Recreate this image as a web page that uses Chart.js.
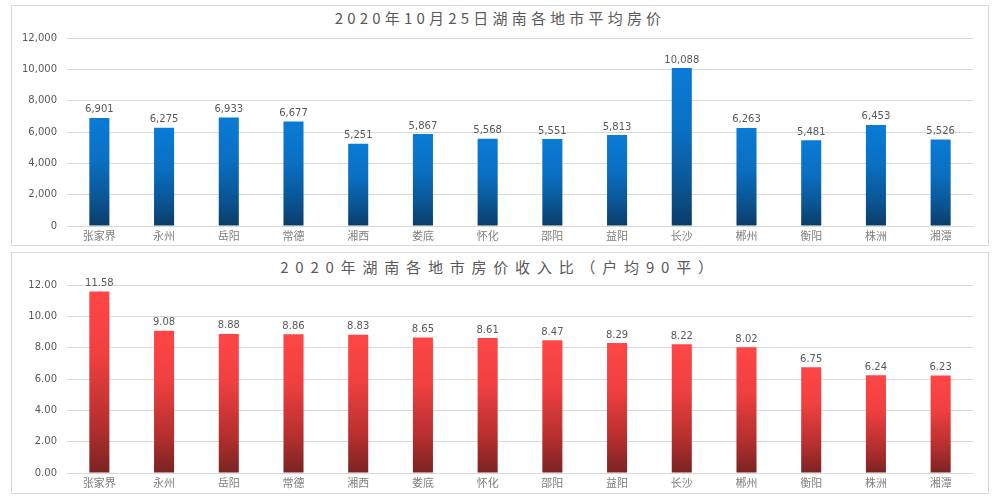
<!DOCTYPE html>
<html>
<head>
<meta charset="utf-8">
<script src="https://cdn.jsdelivr.net/npm/chart.js@4/dist/chart.umd.min.js"></script>
<style>
  html, body { margin: 0; padding: 0; background: #ffffff; width: 1000px; height: 500px; overflow: hidden; }
  .box { position: absolute; left: 11px; width: 976px; border: 1px solid #d9d9d9; background: #fff; }
  #box1 { top: 5px; height: 239px; }
  #box2 { top: 252px; height: 240px; }
  .title { position: absolute; left: 0; right: 0; text-align: center; font-family: "Noto Sans CJK SC", "Noto Sans", sans-serif; font-size: 15px; color: #595959; white-space: nowrap; line-height: 18px; }
  #t1 { top: 3px; letter-spacing: 4.2px; }
  #t2 { top: 5px; letter-spacing: 6.8px; }
  canvas { position: absolute; left: 0; top: 0; }
</style>
</head>
<body>
<div class="box" id="box1">
  <div class="title" id="t1">2020年10月25日湖南各地市平均房价</div>
  <div style="position:absolute;left:0;top:0;width:976px;height:239px;"><canvas id="c1"></canvas></div>
</div>
<div class="box" id="box2">
  <div class="title" id="t2">2020年湖南各地市房价收入比（户均90平）</div>
  <div style="position:absolute;left:0;top:0;width:976px;height:240px;"><canvas id="c2"></canvas></div>
</div>
<script>
const cities = ['张家界','永州','岳阳','常德','湘西','娄底','怀化','邵阳','益阳','长沙','郴州','衡阳','株洲','湘潭'];
const avgPrice = [6901, 6275, 6933, 6677, 5251, 5867, 5568, 5551, 5813, 10088, 6263, 5481, 6453, 5526];
const priceIncomeRatio = [11.58, 9.08, 8.88, 8.86, 8.83, 8.65, 8.61, 8.47, 8.29, 8.22, 8.02, 6.75, 6.24, 6.23];
const priceTicks = [0, 2000, 4000, 6000, 8000, 10000, 12000];
const ratioTicks = [0, 2, 4, 6, 8, 10, 12];

function gradientFill(stops) {
  return function (ctx) {
    const chart = ctx.chart;
    if (!chart.chartArea || ctx.raw === undefined) return stops[0][1];
    const y = chart.scales.y;
    const top = y.getPixelForValue(ctx.raw);
    const bot = y.getPixelForValue(0);
    if (!isFinite(top) || !isFinite(bot) || top === bot) return stops[0][1];
    const g = chart.ctx.createLinearGradient(0, top, 0, bot);
    stops.forEach(s => g.addColorStop(s[0], s[1]));
    return g;
  };
}

function valueLabels(fmt) {
  return {
    id: 'valueLabels',
    afterDatasetsDraw(chart) {
      const ctx = chart.ctx;
      const meta = chart.getDatasetMeta(0);
      const data = chart.data.datasets[0].data;
      ctx.save();
      ctx.font = '10px "DejaVu Sans", sans-serif';
      ctx.fillStyle = '#595959';
      ctx.textAlign = 'center';
      ctx.textBaseline = 'bottom';
      meta.data.forEach((bar, i) => {
        ctx.fillText(fmt(data[i]), bar.x, bar.y - 3);
      });
      ctx.restore();
    }
  };
}

function makeChart(id, values, ticks, max, fmt, stops, bottomH) {
  return new Chart(document.getElementById(id), {
    type: 'bar',
    data: {
      labels: cities,
      datasets: [{
        data: values,
        backgroundColor: gradientFill(stops),
        borderWidth: 0,
        categoryPercentage: 1,
        barPercentage: 0.31
      }]
    },
    options: {
      responsive: true,
      maintainAspectRatio: false,
      animation: false,
      layout: { padding: { top: 32, right: 15, left: 0, bottom: 0 } },
      plugins: { legend: { display: false }, tooltip: { enabled: false }, title: { display: false } },
      scales: {
        x: {
          grid: { display: false, drawTicks: false },
          border: { display: true, color: '#d9d9d9', width: 1 },
          ticks: { color: '#7f7f7f', font: { family: '"Noto Sans CJK SC", sans-serif', size: 11 }, padding: 3, maxRotation: 0 },
          afterFit(s) { s.height = bottomH; }
        },
        y: {
          min: 0, max: max,
          afterBuildTicks(s) { s.ticks = ticks.map(v => ({ value: v })); },
          grid: { color: '#d9d9d9', lineWidth: 1, drawTicks: false },
          border: { display: false },
          ticks: { color: '#595959', font: { family: '"DejaVu Sans", sans-serif', size: 10 }, padding: 10, callback: v => fmt(v) },
          afterFit(s) { s.width = 55; }
        }
      }
    },
    plugins: [valueLabels(fmt)]
  });
}

const fmtPrice = v => Number(v).toLocaleString('en-US');
const fmtRatio = v => Number(v).toFixed(2);

makeChart('c1', avgPrice, priceTicks, 12000, fmtPrice,
  [[0, '#0a7bd6'], [0.4, '#0a6fc2'], [0.75, '#0a5593'], [1, '#0b3c69']], 19);
makeChart('c2', priceIncomeRatio, ratioTicks, 12, fmtRatio,
  [[0, '#ff4646'], [0.35, '#f04040'], [0.75, '#b32e2e'], [1, '#7a2323']], 20);
</script>
</body>
</html>
